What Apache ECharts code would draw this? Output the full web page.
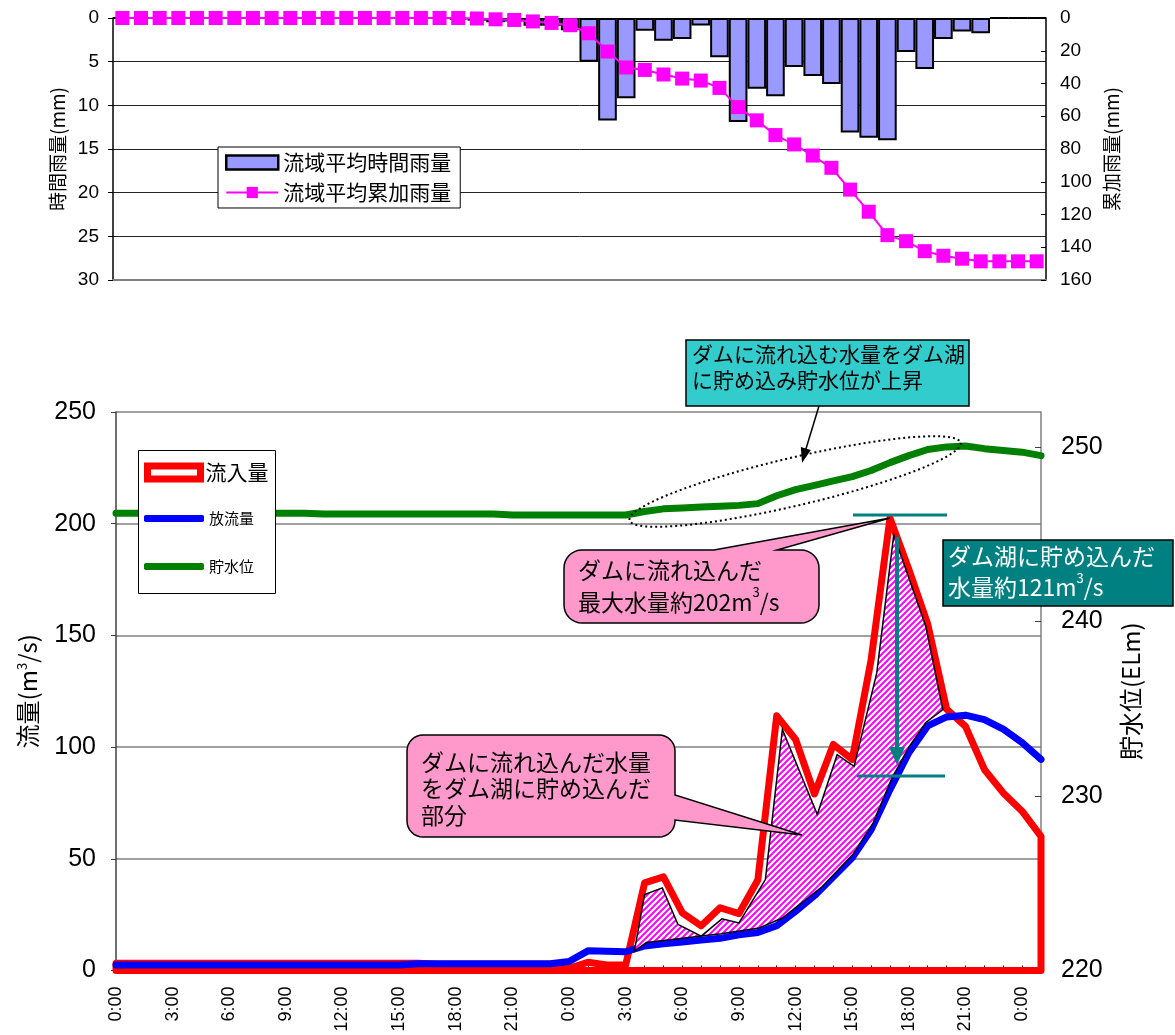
<!DOCTYPE html>
<html><head><meta charset="utf-8">
<script src="https://cdn.jsdelivr.net/npm/echarts@6/dist/echarts.min.js"></script>
<style>html,body{margin:0;padding:0;background:#fff}#c{width:1175px;height:1035px}</style>
</head><body><div id="c"></div>
<script>
// ---------------- data ----------------
const hours = [0,1,2,3,4,5,6,7,8,9,10,11,12,13,14,15,16,17,18,19,20,21,22,23,24,25,26,27,28,29,30,31,32,33,34,35,36,37,38,39,40,41,42,43,44,45,46,47,48,49];
const tickLabels = ['0:00','3:00','6:00','9:00','12:00','15:00','18:00','21:00','0:00','3:00','6:00','9:00','12:00','15:00','18:00','21:00','0:00'];
const hourlyRain = [0,0,0,0,0,0,0,0,0,0,0,0,0,0,0,0,0,0,0.2,0.3,0.5,0.4,0.9,0.9,1.4,5.0,11.75,9.2,1.45,2.6,2.4,0.85,4.5,11.9,8.1,8.95,5.6,6.65,7.55,13.1,13.7,14.0,3.9,5.85,2.4,1.55,1.75,0,0,0];
const cumulativeRain = [0,0,0,0,0,0,0,0,0,0,0,0,0,0,0,0,0,0,0,0.3,0.8,1.2,2.1,3.0,4.4,9.3,20.5,30.2,31.7,34.5,37.0,38.2,42.7,54.4,62.5,71.5,77.2,84.0,91.5,104.8,118.3,132.6,136.3,142.4,145.2,147.0,148.6,148.6,148.6,148.6];
const inflow = [3.2,3.2,3.2,3.2,3.2,3.2,3.2,3.2,3.2,3.2,3.2,3.2,3.2,3.2,3.2,3.2,3.2,2.8,2.8,2.8,2.8,2.8,2.8,2.8,1.0,3.7,2.5,2.5,39.2,41.9,25.8,20.0,28.1,25.5,40.5,114.0,103.4,79.0,101.2,94.5,139.0,202.5,179.5,155.0,117.0,109.3,90.0,79.5,71.3,60.0];
const outflow = [2.5,2.5,2.5,2.5,2.5,2.5,2.5,2.5,2.5,2.5,2.5,2.5,2.5,2.5,2.5,2.5,3.0,3.0,3.0,3.0,3.0,3.0,3.0,3.0,4.0,8.8,8.6,8.4,11.0,12.0,12.8,13.6,14.4,16.0,17.0,20.0,26.5,33.5,42.0,50.5,63.0,81.0,97.5,109.5,113.5,114.3,112.3,108.0,102.0,94.5];
const waterLevel = [246.2,246.2,246.2,246.2,246.2,246.2,246.2,246.2,246.2,246.2,246.2,246.15,246.15,246.15,246.15,246.15,246.15,246.15,246.15,246.15,246.15,246.1,246.1,246.1,246.1,246.1,246.1,246.1,246.3,246.45,246.5,246.55,246.6,246.65,246.75,247.2,247.55,247.8,248.05,248.3,248.65,249.1,249.5,249.85,250.0,250.05,249.9,249.8,249.7,249.5];
// outline of the hatched "stored water" region (hour, m3/s)
const storedHours = [27.46,28.0,28.94,29.77,31.0,32.1,33.0,34.4,35.3,37.15,38.2,39.1,40.3,41.2,42.9,43.8,42.9,42.0,41.1,40.1,39.04,38.2,37.4,35.3,34.07,32.05,30.9,28.1];
const storedValues = [8.7,34.0,37.0,20.6,15.4,23.1,21.3,40.7,107.9,69.8,96.6,91.4,133.2,195.0,154.0,116.8,111.0,100.0,86.0,66.0,52.0,44.5,37.5,23.5,19.0,16.5,15.3,12.5];

// ---------------- helpers (annotation geometry only) ----------------
const CJK = "'Noto Sans CJK JP', sans-serif";
const NUM = "'Liberation Sans', Arial, sans-serif";
function arc(cx, cy, r, a0, a1) {
  const p = [];
  for (let k = 0; k <= 8; k++) { const a = a0 + (a1 - a0) * k / 8; p.push([cx + r * Math.cos(a), cy + r * Math.sin(a)]); }
  return p;
}
const PI = Math.PI;
function ellipsePts(cx, cy, a, b, th) {
  const p = [];
  for (let k = 0; k < 120; k++) {
    const t = 2 * PI * k / 120;
    p.push([cx + a * Math.cos(t) * Math.cos(th) - b * Math.sin(t) * Math.sin(th),
            cy + a * Math.cos(t) * Math.sin(th) + b * Math.sin(t) * Math.cos(th)]);
  }
  return p;
}
const call1 = [].concat(
  arc(582, 568, 18, PI, 1.5 * PI),
  [[714, 550], [890, 518], [777, 550]],
  arc(801, 568, 18, -0.5 * PI, 0),
  arc(801, 605, 18, 0, 0.5 * PI),
  arc(582, 605, 18, 0.5 * PI, PI)
);
const call2 = [].concat(
  arc(423, 751, 16, PI, 1.5 * PI),
  arc(659, 751, 16, -0.5 * PI, 0),
  [[675, 795], [802, 835], [675, 820]],
  arc(659, 821, 16, 0, 0.5 * PI),
  arc(423, 821, 16, 0.5 * PI, PI)
);

// hatch pattern
const pat = document.createElement('canvas'); pat.width = 6; pat.height = 6;
const pg = pat.getContext('2d');
pg.fillStyle = '#fff'; pg.fillRect(0, 0, 6, 6);
pg.strokeStyle = '#FF00FF'; pg.lineWidth = 2;
pg.beginPath();
pg.moveTo(-1, 7); pg.lineTo(7, -1);
pg.moveTo(-4, 4); pg.lineTo(4, -4);
pg.moveTo(2, 10); pg.lineTo(10, 2);
pg.stroke();

const chart = echarts.init(document.getElementById('c'));

const option = {
  animation: false,
  backgroundColor: '#fff',
  grid: [
    { left: 113, top: 18, width: 933, height: 262 },
    { left: 116, top: 412, width: 925, height: 558.5 }
  ],
  legend: [
    {
      data: [
        { name: '流域平均時間雨量', icon: 'rect', itemStyle: { color: '#9999FF', borderColor: '#000', borderWidth: 2.5 } },
        { name: '流域平均累加雨量' }
      ],
      orient: 'vertical', left: 218, top: 147,
      padding: [5, 9, 5, 7], itemGap: 9, itemWidth: 52, itemHeight: 14,
      backgroundColor: '#fff', borderColor: '#000', borderWidth: 1, borderRadius: 0,
      textStyle: { fontFamily: CJK, fontSize: 21, color: '#000' },
      selectedMode: false, z: 6
    },
    {
      data: [{ name: '流入量', icon: 'rect', itemStyle: { color: '#fff', borderColor: '#FF0000', borderWidth: 7 } }],
      left: 144, top: 462, padding: 0, itemWidth: 53, itemHeight: 13,
      textStyle: { fontFamily: CJK, fontSize: 21, color: '#000' }, selectedMode: false, z: 6
    },
    {
      data: [{ name: '放流量', icon: 'roundRect' }],
      left: 144, top: 511, padding: 0, itemWidth: 60, itemHeight: 7,
      textStyle: { fontFamily: CJK, fontSize: 15, color: '#000' }, selectedMode: false, z: 6
    },
    {
      data: [{ name: '貯水位', icon: 'roundRect' }],
      left: 144, top: 559, padding: 0, itemWidth: 60, itemHeight: 7,
      textStyle: { fontFamily: CJK, fontSize: 15, color: '#000' }, selectedMode: false, z: 6
    }
  ],
  xAxis: [
    {
      type: 'category', gridIndex: 0, data: hours, boundaryGap: true,
      axisLine: { show: true, onZero: false, lineStyle: { color: '#808080', width: 2 } },
      axisTick: { show: false }, axisLabel: { show: false }, splitLine: { show: false }
    },
    {
      type: 'value', gridIndex: 1, min: 0, max: 49, interval: 1,
      axisLine: { show: true, onZero: false, lineStyle: { color: '#808080', width: 2 } },
      axisTick: { show: true, inside: true, length: 5, lineStyle: { color: '#000', width: 1 } },
      axisLabel: {
        rotate: 90, margin: 16, fontFamily: NUM, fontSize: 18, color: '#000',
        formatter: v => (v % 3 === 0 ? tickLabels[v / 3] : '')
      },
      splitLine: { show: false }
    }
  ],
  yAxis: [
    {
      type: 'value', gridIndex: 0, inverse: true, min: 0, max: 30, interval: 5,
      name: '時間雨量(mm)', nameLocation: 'middle', nameGap: 44, nameRotate: 90,
      nameTextStyle: { fontFamily: CJK, fontSize: 19, color: '#000' },
      axisLine: { show: true, lineStyle: { color: '#000', width: 1.5 } },
      axisTick: { show: true, length: 5, lineStyle: { color: '#000' } },
      axisLabel: { fontFamily: NUM, fontSize: 19, color: '#000', margin: 14 },
      splitLine: { show: true, lineStyle: { color: '#222', width: 1 } }
    },
    {
      type: 'value', gridIndex: 0, inverse: true, min: 0, max: 160, interval: 20, position: 'right',
      name: '累加雨量(mm)', nameLocation: 'middle', nameGap: 55, nameRotate: 90,
      nameTextStyle: { fontFamily: CJK, fontSize: 19, color: '#000' },
      axisLine: { show: true, lineStyle: { color: '#000', width: 1.5 } },
      axisTick: { show: true, inside: true, length: 5, lineStyle: { color: '#000' } },
      axisLabel: { fontFamily: NUM, fontSize: 19, color: '#000', margin: 14 },
      splitLine: { show: false }
    },
    {
      type: 'value', gridIndex: 1, min: 0, max: 250, interval: 50,
      name: '流量(m{s|3}/s)', nameLocation: 'middle', nameGap: 76, nameRotate: 90,
      nameTextStyle: { fontFamily: CJK, fontSize: 24, color: '#000',
        rich: { s: { fontFamily: CJK, fontSize: 13, lineHeight: 13, verticalAlign: 'top', color: '#000' } } },
      axisLine: { show: true, lineStyle: { color: '#404040', width: 1.5 } },
      axisTick: { show: true, length: 5, lineStyle: { color: '#404040' } },
      axisLabel: { fontFamily: NUM, fontSize: 25, color: '#000', margin: 20 },
      splitLine: { show: true, lineStyle: { color: '#808080', width: 1.5 } }
    },
    {
      type: 'value', gridIndex: 1, min: 220, max: 252, interval: 10, position: 'right',
      name: '貯水位(ELm)', nameLocation: 'middle', nameGap: 78, nameRotate: 90,
      nameTextStyle: { fontFamily: CJK, fontSize: 24, color: '#000' },
      axisLine: { show: true, lineStyle: { color: '#808080', width: 1.5 } },
      axisTick: { show: true, inside: true, length: 6, lineStyle: { color: '#404040' } },
      axisLabel: { fontFamily: NUM, fontSize: 25, color: '#000', margin: 20, showMaxLabel: false },
      splitLine: { show: false }
    }
  ],
  series: [
    {
      name: '流域平均時間雨量', type: 'bar', xAxisIndex: 0, yAxisIndex: 0, data: hourlyRain,
      barCategoryGap: '0%', itemStyle: { color: '#9999FF', borderColor: '#000', borderWidth: 2 }, z: 2
    },
    {
      name: '流域平均累加雨量', type: 'line', xAxisIndex: 0, yAxisIndex: 1, data: cumulativeRain,
      symbol: 'rect', symbolSize: 14, showSymbol: true, showAllSymbol: true,
      lineStyle: { color: '#FF00FF', width: 2 },
      itemStyle: { color: '#FF00FF' }, z: 3
    },
    {
      name: '流入量', type: 'custom', xAxisIndex: 1, yAxisIndex: 2, data: [[0, 0]],
      itemStyle: { color: '#FF0000' }, z: 1,
      renderItem: function (params, api) {
        const pts = hours.map((h, i) => api.coord([h, inflow[i]]));
        pts.push(api.coord([hours[hours.length - 1], 0]));
        pts.push(api.coord([hours[0], 0]));
        return { type: 'polygon', shape: { points: pts },
          style: { fill: 'none', stroke: '#FF0000', lineWidth: 7, lineJoin: 'round' } };
      }
    },
    {
      name: '放流量', type: 'line', xAxisIndex: 1, yAxisIndex: 2,
      data: hours.map((h, i) => [h, outflow[i]]), symbol: 'none',
      lineStyle: { color: '#0000FF', width: 7, cap: 'round', join: 'round' },
      itemStyle: { color: '#0000FF' }, z: 2
    },
    {
      name: '貯留量', type: 'custom', xAxisIndex: 1, yAxisIndex: 2, data: [[0, 0]], z: 2.5,
      renderItem: function (params, api) {
        const pts = storedHours.map((h, i) => api.coord([h, storedValues[i]]));
        return { type: 'polygon', shape: { points: pts },
          style: { fill: { image: pat, repeat: 'repeat' }, stroke: '#000', lineWidth: 1.5, lineJoin: 'miter' } };
      }
    },
    {
      name: '貯水位', type: 'line', xAxisIndex: 1, yAxisIndex: 3,
      data: hours.map((h, i) => [h, waterLevel[i]]), symbol: 'none',
      lineStyle: { color: '#008000', width: 7, cap: 'round', join: 'round' },
      itemStyle: { color: '#008000' }, z: 2.8
    }
  ],
  graphic: [
    { type: 'rect', z: 4, shape: { x: 138.5, y: 450.5, width: 137, height: 143 },
      style: { fill: '#fff', stroke: '#000', lineWidth: 1 } },
    { type: 'rect', z: 10, shape: { x: 686, y: 340, width: 283, height: 66 },
      style: { fill: '#33CCCC', stroke: '#000', lineWidth: 1.5 } },
    { type: 'text', z: 11, x: 692, y: 341,
      style: { text: 'ダムに流れ込む水量をダム湖\nに貯め込み貯水位が上昇', font: '21px ' + CJK, lineHeight: 26, fill: '#000', verticalAlign: 'top' } },
    { type: 'line', z: 10, shape: { x1: 819, y1: 406, x2: 805, y2: 452 }, style: { stroke: '#000', lineWidth: 1.5 } },
    { type: 'polygon', z: 10, shape: { points: [[802, 463], [810.8, 450], [800.8, 447]] }, style: { fill: '#000' } },
    { type: 'polygon', z: 10, shape: { points: ellipsePts(795, 481.5, 170, 24, -13.2 * PI / 180) },
      style: { fill: 'none', stroke: '#000', lineWidth: 2, lineDash: [2, 3] } },
    { type: 'line', z: 10, shape: { x1: 853, y1: 515, x2: 947, y2: 515 }, style: { stroke: '#008080', lineWidth: 3 } },
    { type: 'line', z: 10, shape: { x1: 857, y1: 776, x2: 945, y2: 776 }, style: { stroke: '#008080', lineWidth: 3 } },
    { type: 'line', z: 10, shape: { x1: 897, y1: 537, x2: 897, y2: 752 }, style: { stroke: '#008080', lineWidth: 4 } },
    { type: 'polygon', z: 10, shape: { points: [[897, 765], [889, 747], [905, 747]] }, style: { fill: '#008080' } },
    { type: 'polygon', z: 12, shape: { points: call1 }, style: { fill: '#FF99CC', stroke: '#000', lineWidth: 1.5 } },
    { type: 'text', z: 13, x: 578, y: 554,
      style: { text: '{a|ダムに流れ込んだ}\n{a|最大水量約202m}{s|3}{a|/s}',
        rich: { a: { font: '23px ' + CJK, lineHeight: 32, fill: '#000' },
                s: { font: '13px ' + CJK, lineHeight: 13, verticalAlign: 'top', fill: '#000' } },
        verticalAlign: 'top' } },
    { type: 'rect', z: 12, shape: { x: 943, y: 540, width: 230, height: 66 },
      style: { fill: '#008080', stroke: '#000', lineWidth: 1.5 } },
    { type: 'text', z: 13, x: 948, y: 541,
      style: { text: '{a|ダム湖に貯め込んだ}\n{a|水量約121m}{s|3}{a|/s}',
        rich: { a: { font: '23px ' + CJK, lineHeight: 31, fill: '#fff' },
                s: { font: '13px ' + CJK, lineHeight: 13, verticalAlign: 'top', fill: '#fff' } },
        verticalAlign: 'top' } },
    { type: 'polygon', z: 12, shape: { points: call2 }, style: { fill: '#FF99CC', stroke: '#000', lineWidth: 1.5 } },
    { type: 'text', z: 13, x: 421, y: 749,
      style: { text: 'ダムに流れ込んだ水量\nをダム湖に貯め込んだ\n部分', font: '23px ' + CJK, lineHeight: 26.5, fill: '#000', verticalAlign: 'top' } }
  ]
};
chart.setOption(option);
</script>
</body></html>
